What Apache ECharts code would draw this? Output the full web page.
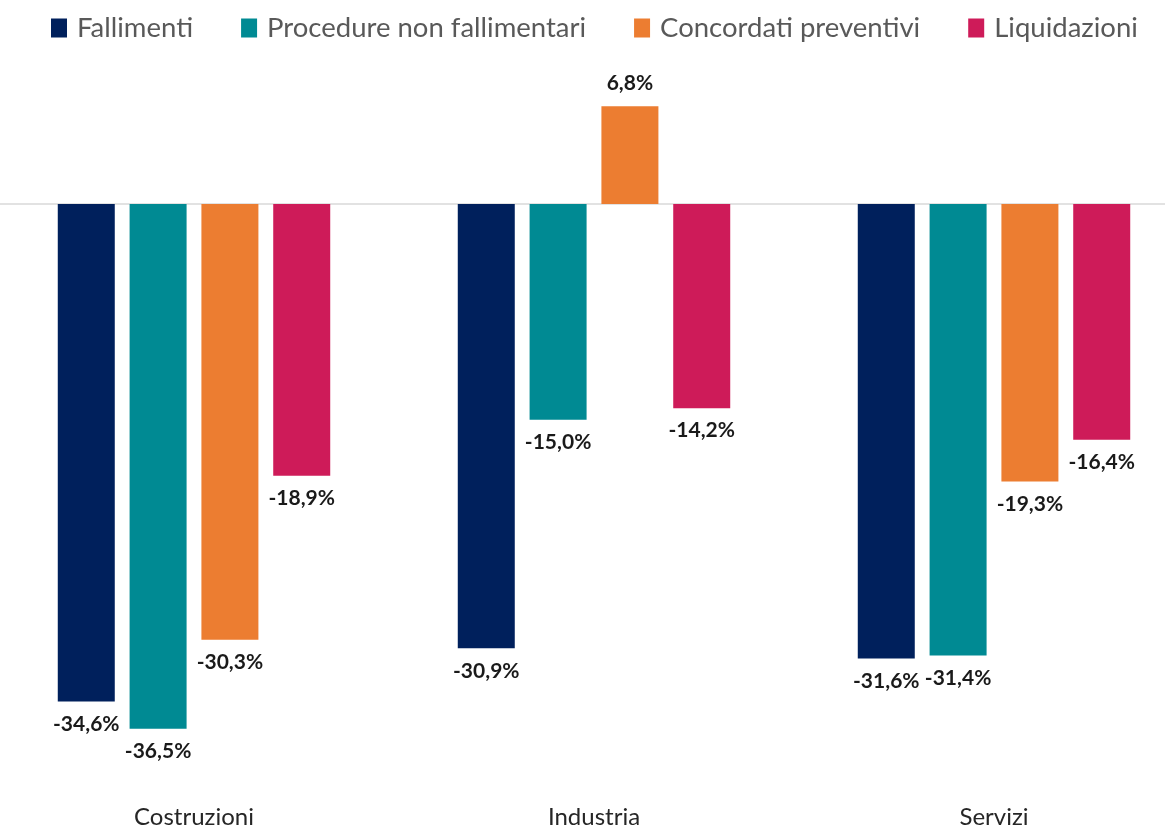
<!DOCTYPE html>
<html>
<head>
<meta charset="utf-8">
<script src="https://cdn.jsdelivr.net/npm/echarts@6/dist/echarts.min.js"></script>
<style>
html,body{margin:0;padding:0;background:#fff;}
#chart{width:1165px;height:832px;}
</style>
</head>
<body>
<div id="chart"></div>
<script>
const categories = ['Costruzioni', 'Industria', 'Servizi'];
const seriesNames = ['Fallimenti', 'Procedure non fallimentari', 'Concordati preventivi', 'Liquidazioni'];
const fallimenti = [-34.6, -30.9, -31.6];
const procedureNonFallimentari = [-36.5, -15.0, -31.4];
const concordatiPreventivi = [-30.3, 6.8, -19.3];
const liquidazioni = [-18.9, -14.2, -16.4];
const colors = ['#00205C', '#008A93', '#EC7D31', '#CE1B59'];

const allValues = [fallimenti, procedureNonFallimentari, concordatiPreventivi, liquidazioni];

function fmt(v) { return v.toFixed(1).replace('.', ',') + '%'; }

const chart = echarts.init(document.getElementById('chart'));
const series = seriesNames.map((name, i) => ({
  name: name,
  type: 'bar',
  barWidth: 57,
  barGap: '26%',
  itemStyle: { color: colors[i] },
  label: {
    show: true,
    distance: 12,
    fontFamily: 'Lato',
    fontWeight: 'bold',
    fontSize: 21,
    color: '#1a1a1a',
    formatter: p => fmt(p.value)
  },
  data: allValues[i].map(v => ({ value: v, label: { position: v < 0 ? 'bottom' : 'top' } }))
}));

chart.setOption({
  animation: false,
  backgroundColor: '#fff',
  legend: {
    data: seriesNames,
    left: 46,
    top: 9,
    icon: 'rect',
    itemWidth: 16,
    itemHeight: 19,
    itemGap: 48,
    textStyle: { fontFamily: 'Lato', fontSize: 27.5, color: '#595959', padding: [0, 0, 0, 5] }
  },
  grid: { left: -6, width: 1200, top: 60.2, height: 719, containLabel: false, outerBoundsMode: 'none' },
  xAxis: {
    type: 'category',
    data: categories,
    axisLine: { show: true, onZero: true, lineStyle: { color: '#d9d9d9', width: 1.5 } },
    axisTick: { show: false },
    axisLabel: { show: true, fontFamily: 'Lato', fontSize: 24, color: '#262626', margin: 26 },
    position: 'bottom'
  },
  yAxis: {
    type: 'value',
    min: -40,
    max: 10,
    show: false,
    splitLine: { show: false }
  },
  series: series
});
</script>
</body>
</html>
